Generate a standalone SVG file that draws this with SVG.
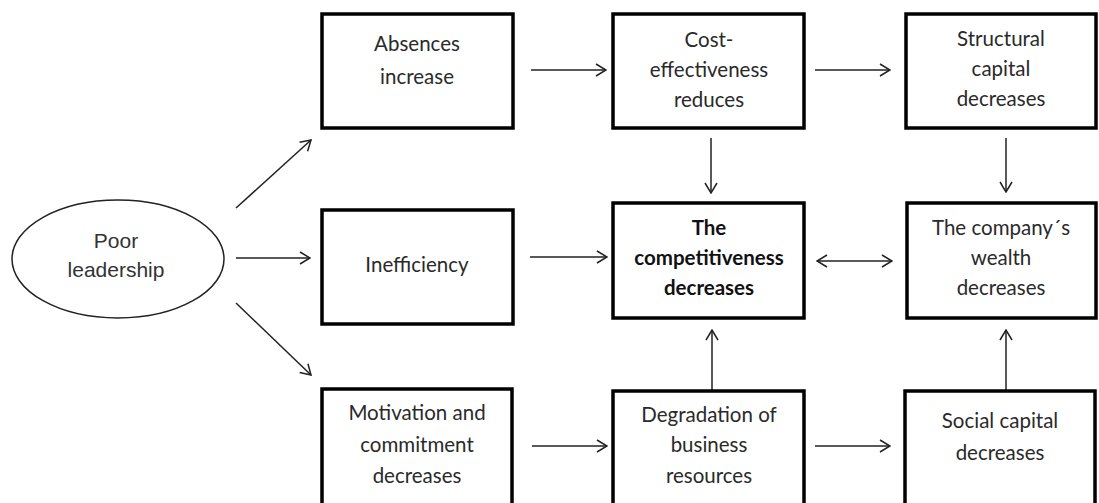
<svg xmlns="http://www.w3.org/2000/svg" width="1099" height="503" viewBox="0 0 1099 503">
  <style>
    .box { fill: #ffffff; stroke: #000000; stroke-width: 3.5; }
    .ell { fill: #ffffff; stroke: #222222; stroke-width: 1.5; }
    .t { font-family: Lato, "Liberation Sans", sans-serif; font-size: 20.5px; fill: #2a2a2a; text-anchor: middle; }
    .b { font-weight: bold; fill: #111111; }
    .et { font-family: "Liberation Sans", Arial, sans-serif; font-size: 21px; fill: #333333; text-anchor: middle; }
    .c { stroke: #222222; stroke-width: 1.5; fill: none; marker-end: url(#ah); }
    .d { marker-start: url(#ah); }
  </style>
  <defs>
    <marker id="ah" viewBox="0 0 12 14" refX="11" refY="7" markerWidth="12" markerHeight="14" markerUnits="userSpaceOnUse" orient="auto-start-reverse">
      <path d="M1,1 L11,7 L1,13" fill="none" stroke="#222222" stroke-width="1.5"/>
    </marker>
  </defs>
  <rect width="1099" height="503" fill="#ffffff"/>

  <g id="connectors">
    <line class="c" x1="236" y1="208" x2="311" y2="140"/>
    <line class="c" x1="236" y1="258" x2="310" y2="258"/>
    <line class="c" x1="236" y1="303" x2="311" y2="375"/>
    <line class="c" x1="531" y1="70" x2="606" y2="70"/>
    <line class="c" x1="815" y1="70" x2="890" y2="70"/>
    <line class="c" x1="530" y1="257" x2="607" y2="257"/>
    <line class="c d" x1="817" y1="261" x2="892" y2="261"/>
    <line class="c" x1="532" y1="446" x2="607" y2="446"/>
    <line class="c" x1="815" y1="446" x2="890" y2="446"/>
    <line class="c" x1="711" y1="138" x2="711" y2="193"/>
    <line class="c" x1="1006" y1="138" x2="1006" y2="192"/>
    <line class="c" x1="712" y1="390" x2="712" y2="330"/>
    <line class="c" x1="1006" y1="390" x2="1006" y2="330"/>
  </g>

  <g id="poor-leadership">
    <ellipse class="ell" cx="118" cy="259" rx="106" ry="59"/>
    <text class="et" x="116" y="248">Poor</text>
    <text class="et" x="116" y="277">leadership</text>
  </g>

  <g id="absences">
    <rect class="box" x="322" y="14" width="191" height="114"/>
    <text class="t" x="417" y="51">Absences</text>
    <text class="t" x="417" y="84">increase</text>
  </g>

  <g id="cost">
    <rect class="box" x="613" y="14" width="191" height="114"/>
    <text class="t" x="709" y="47">Cost-</text>
    <text class="t" x="709" y="77">effectiveness</text>
    <text class="t" x="709" y="107">reduces</text>
  </g>

  <g id="structural">
    <rect class="box" x="906" y="14" width="190" height="114"/>
    <text class="t" x="1001" y="46">Structural</text>
    <text class="t" x="1001" y="76">capital</text>
    <text class="t" x="1001" y="106">decreases</text>
  </g>

  <g id="inefficiency">
    <rect class="box" x="322" y="210" width="191" height="114"/>
    <text class="t" x="417" y="272">Inefficiency</text>
  </g>

  <g id="competitiveness">
    <rect class="box" x="613" y="203" width="191" height="115"/>
    <text class="t b" x="709" y="235">The</text>
    <text class="t b" x="709" y="265">competitiveness</text>
    <text class="t b" x="709" y="295">decreases</text>
  </g>

  <g id="wealth">
    <rect class="box" x="907" y="203" width="189" height="115"/>
    <text class="t" x="1001" y="235">The company´s</text>
    <text class="t" x="1001" y="265">wealth</text>
    <text class="t" x="1001" y="295">decreases</text>
  </g>

  <g id="motivation">
    <rect class="box" x="322" y="389" width="190" height="130"/>
    <text class="t" x="417" y="420">Motivation and</text>
    <text class="t" x="417" y="452">commitment</text>
    <text class="t" x="417" y="483">decreases</text>
  </g>

  <g id="degradation">
    <rect class="box" x="613" y="391" width="191" height="130"/>
    <text class="t" x="709" y="422">Degradation of</text>
    <text class="t" x="709" y="452">business</text>
    <text class="t" x="709" y="483">resources</text>
  </g>

  <g id="social">
    <rect class="box" x="905" y="391" width="190" height="130"/>
    <text class="t" x="1000" y="428">Social capital</text>
    <text class="t" x="1000" y="460">decreases</text>
  </g>
</svg>
